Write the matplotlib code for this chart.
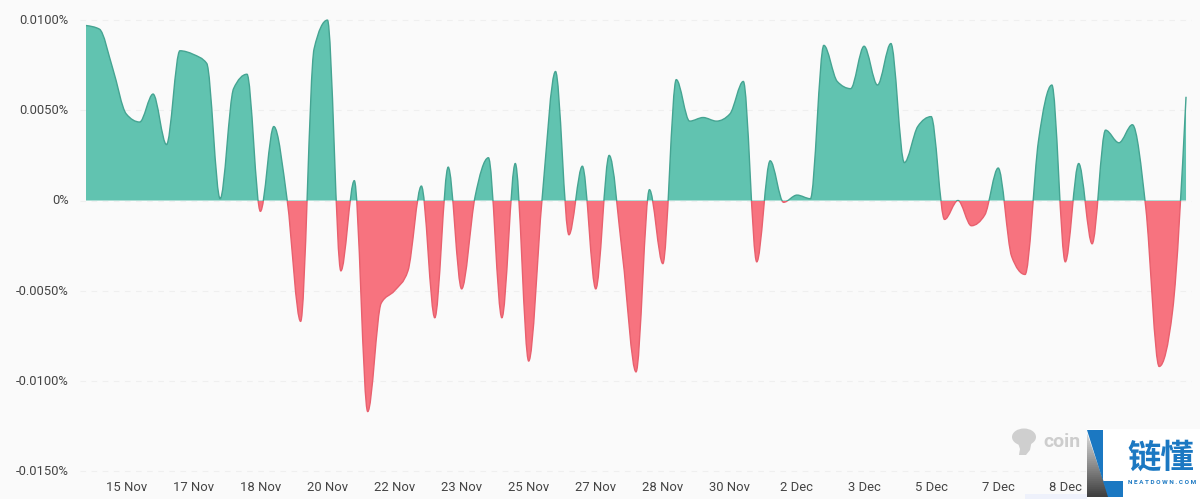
import numpy as np
import matplotlib
matplotlib.use("Agg")
import matplotlib.pyplot as plt
from matplotlib.path import Path
from matplotlib.patches import PathPatch, Rectangle, Polygon, Ellipse
from matplotlib.transforms import ScaledTranslation

plt.rcParams['font.family'] = ['Roboto', 'DejaVu Sans']

# funding rate in %, one value every 8 hours
rate = [0.0097, 0.0095, 0.0073, 0.0048, 0.00435, 0.0059, 0.0031, 0.0083,
        0.0081, 0.0076, 0.0001, 0.0062, 0.0070, -0.0006, 0.0041, 0.0000,
        -0.0067, 0.0084, 0.0100, -0.0039, 0.0011, -0.0117, -0.0057, -0.0050,
        -0.0039, 0.0008, -0.0065, 0.00185, -0.0049, 0.0002, 0.00237, -0.0065,
        0.00205, -0.0089, 0.0001, 0.00715, -0.0019, 0.0019, -0.0049, 0.0025,
        -0.0031, -0.0095, 0.0006, -0.0035, 0.0067, 0.0044, 0.0046, 0.0044,
        0.0048, 0.0066, -0.0034, 0.0022, -0.0001, 0.0003, 0.0001, 0.0086,
        0.0066, 0.0062, 0.00855, 0.0064, 0.0087, 0.0021, 0.0041, 0.00465,
        -0.00105, 0.0000, -0.0014, -0.0008, 0.0018, -0.0031, -0.0041, 0.0033,
        0.0064, -0.0034, 0.00205, -0.0024, 0.0039, 0.0032, 0.0042, -0.0004,
        -0.0092, -0.0061, 0.00575]

date_ticks = [3, 8, 13, 18, 23, 28, 33, 38, 43, 48, 53, 58, 63, 68, 73]
date_labels = ["15 Nov", "17 Nov", "18 Nov", "20 Nov", "22 Nov", "23 Nov",
               "25 Nov", "27 Nov", "28 Nov", "30 Nov", "2 Dec", "3 Dec",
               "5 Dec", "7 Dec", "8 Dec"]
rate_ticks = [0.01, 0.005, 0, -0.005, -0.01, -0.015]
rate_labels = ["0.0100%", "0.0050%", "0%", "-0.0050%", "-0.0100%", "-0.0150%"]

BG = "#fafafa"
W, H = 1200, 499
PX_PER_POINT = 13.415
PX_PER_UNIT = 18040.0


def monotone_path(y):
    # same curve as d3 curveMonotoneX, one bezier per interval
    y = np.asarray(y, dtype=float)
    s = np.diff(y)
    t = np.zeros(len(y))
    for i in range(1, len(y) - 1):
        if s[i - 1] * s[i] > 0:
            t[i] = np.sign(s[i]) * min(2 * abs(s[i - 1]), 2 * abs(s[i]),
                                       0.5 * abs(s[i - 1] + s[i]))
    t[0] = (3 * s[0] - t[1]) / 2
    t[-1] = (3 * s[-1] - t[-2]) / 2
    verts = [(0, y[0])]
    codes = [Path.MOVETO]
    for i in range(len(y) - 1):
        verts += [(i + 1 / 3, y[i] + t[i] / 3),
                  (i + 2 / 3, y[i + 1] - t[i + 1] / 3),
                  (i + 1, y[i + 1])]
        codes += [Path.CURVE4] * 3
    return verts, codes


fig = plt.figure(figsize=(W / 100, H / 100), dpi=100, facecolor=BG)

# axes placed so that 0% sits at y=200.5 and the first point at x=86
y_top, y_bot = 0.0102, -0.0151
px_top = 200.5 - y_top * PX_PER_UNIT
px_bot = 200.5 - y_bot * PX_PER_UNIT
ax = fig.add_axes([80 / W, 1 - px_bot / H, 1112 / W, (px_bot - px_top) / H])
ax.set_facecolor(BG)
ax.set_xlim((80 - 86) / PX_PER_POINT, (1192 - 86) / PX_PER_POINT)
ax.set_ylim(y_bot, y_top)

verts, codes = monotone_path(rate)
n = len(rate) - 1
fill_verts = verts + [(n, 0), (0, 0), (0, verts[0][1])]
fill_codes = codes + [Path.LINETO, Path.LINETO, Path.CLOSEPOLY]

x0, x1 = ax.get_xlim()
for color, line, low, high in [("#61c3b0", "#45a492", 0, y_top),
                               ("#f7737f", "#e8606e", y_bot, 0)]:
    clip = Rectangle((x0, low), x1 - x0, high - low, transform=ax.transData)
    area = PathPatch(Path(fill_verts, fill_codes), fc=color, ec="none", zorder=2)
    edge = PathPatch(Path(verts, codes), fc="none", ec=line, lw=1.0, zorder=3)
    ax.add_patch(area)
    ax.add_patch(edge)
    area.set_clip_path(clip)
    edge.set_clip_path(clip)

ax.set_xticks(date_ticks, date_labels)
ax.set_yticks(rate_ticks, rate_labels)
ax.tick_params(length=0, labelsize=9.4, labelcolor="#444444")
ax.tick_params(axis="y", pad=8)
ax.tick_params(axis="x", pad=6)
ax.grid(axis="y", color="#efefef", lw=0.8, ls=(0, (5, 5)), zorder=1)
ax.grid(axis="x", visible=False)
for side in ax.spines.values():
    side.set_visible(False)
# y labels sit a pixel above their gridlines
nudge = ScaledTranslation(0, 1 / 100, fig.dpi_scale_trans)
for lab in ax.get_yticklabels():
    lab.set_transform(lab.get_transform() + nudge)

# watermark and logo, in pixel coordinates
ov = fig.add_axes([0, 0, 1, 1])
ov.patch.set_alpha(0)
ov.axis("off")

ov.add_patch(Ellipse((1024, 437), 24, 17, fc="#cfcfcf", ec="none"))
ov.add_patch(Polygon([(1017, 440), (1032, 440), (1030, 450), (1026, 455),
                      (1019, 455), (1020, 449)], fc="#cfcfcf", ec="none"))
ov.text(1043, 442, "coin", fontsize=14, fontweight="bold", color="#cdcdcd",
        va="center", ha="left")

ov.add_patch(Rectangle((1025, 494), 62, 5, fc="#eef1fb", ec="none"))
ov.add_patch(Rectangle((1087, 429), 113, 70, fc="white", ec="none"))
tri = Polygon([(1087, 433), (1109, 497), (1087, 497)], fc="none", ec="none")
ov.add_patch(tri)
grad = np.linspace(0.85, 0.25, 32).reshape(-1, 1)
img = ov.imshow(grad, extent=(1087, 1109, 497, 433), cmap="gray", vmin=0, vmax=1,
                aspect="auto", zorder=2)
img.set_clip_path(tri)
ov.add_patch(Polygon([(1087, 430), (1103, 430), (1103, 481), (1123, 481),
                      (1123, 497), (1108, 497)], fc="#1b78c2", ec="none", zorder=3))
ov.set_xlim(0, W)
ov.set_ylim(H, 0)
ov.text(1161, 458, "链懂", fontsize=24, fontweight="bold", color="#1b78c2",
        family=["Noto Sans CJK SC", "DejaVu Sans"], ha="center", va="center")
ov.text(1162, 482.5, "N E A T D O W N . C O M", fontsize=4.6, color="#1b78c2",
        fontweight="bold", ha="center", va="center")

fig.savefig("out.png", dpi=100, facecolor=BG)
